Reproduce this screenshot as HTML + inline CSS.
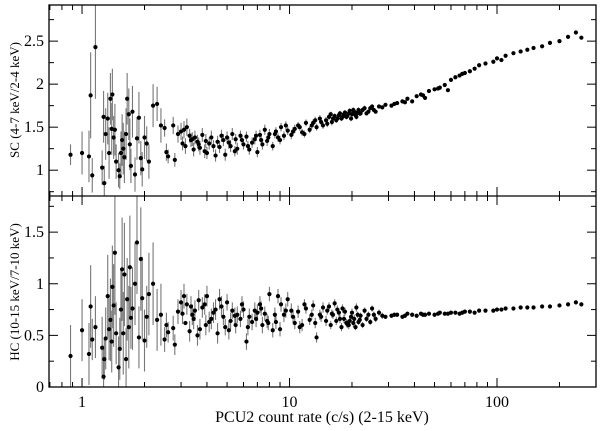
<!DOCTYPE html>
<html><head><meta charset="utf-8"><style>
html,body{margin:0;padding:0;background:#fff;}
svg{display:block;font-family:"Liberation Serif",serif;}
</style></head><body>
<svg id="chart" width="600" height="431" viewBox="0 0 600 431">
<defs>
<clipPath id="clipTop"><rect x="49" y="5" width="547" height="191"/></clipPath>
<clipPath id="clipBot"><rect x="49" y="196" width="547" height="191"/></clipPath>
</defs>
<g id="topErr" clip-path="url(#clipTop)"></g>
<g id="botErr" clip-path="url(#clipBot)"></g>
<g id="topPts" clip-path="url(#clipTop)"></g>
<g id="botPts" clip-path="url(#clipBot)"></g>
<g id="axes"></g>
<text x="19" y="100" transform="rotate(-90 19 100)" text-anchor="middle" font-size="13">SC (4-7 keV/2-4 keV)</text>
<text x="19" y="292" transform="rotate(-90 19 292)" text-anchor="middle" font-size="13">HC (10-15 keV/7-10 keV)</text>
<text x="322" y="422" text-anchor="middle" font-size="16">PCU2 count rate (c/s) (2-15 keV)</text>
</svg>
<script>
const rate=[0.88,1.0,1.08,1.1,1.12,1.16,1.25,1.27,1.28,1.30,1.33,1.35,1.37,1.39,1.40,1.42,1.44,1.46,1.5,1.52,1.54,1.56,1.58,1.6,1.63,1.65,1.68,1.7,1.72,1.75,1.8,1.84,1.88,1.92,1.95,2.0,2.05,2.1,2.2,2.3,2.4,
2.5,2.55,2.6,2.75,2.8,2.9,3.0,3.05,3.1,3.2,3.3,3.35,3.45,3.5,3.6,3.7,3.8,3.9,4.0,4.1,4.2,4.4,4.5,4.6,4.8,4.9,5.0,5.2,5.3,5.5,5.6,5.8,6.0,6.2,6.4,6.6,6.8,7.0,7.2,7.4,7.6,7.8,8.0,8.3,8.6,8.8,9.1,9.4,9.8,
10.2,10.6,11.0,11.5,12.0,12.5,13.0,13.5,14.0,14.5,15.0,15.5,16.0,16.5,17.0,17.5,18.0,18.5,19.0,19.5,20.0,20.5,21,21.5,22,23,24,25,26,27,29,31,33,35,37,39,41,43,45,47,50,53,56,58,60,63,66,70,74,78,82,96,100,105,110,120,130,140,150,165,180,200,220,240,255,
3.15,3.4,3.65,3.95,4.3,4.7,5.1,5.45,5.9,6.3,6.9,7.3,7.9,8.5,9.0,9.6,10.4,11.2,11.8,12.8,13.3,14.2,15.2,15.8,16.2,16.8,17.3,17.8,18.3,18.8,19.3,19.8,20.3,20.8,21.3,21.8,22.5,23.5,24.5,25.5,28,32,36,44,52,68,88];
const sc=[1.18,1.20,1.16,1.87,0.94,2.43,1.03,1.62,0.85,1.42,1.60,1.20,1.83,1.48,1.88,1.38,1.47,1.10,1.00,0.93,1.20,1.35,1.25,1.15,1.42,1.83,1.65,1.30,1.05,1.68,0.95,1.37,1.61,1.14,1.01,1.38,1.31,1.10,1.75,1.77,1.52,
1.49,1.21,1.16,1.52,1.12,1.42,1.45,1.31,1.47,1.50,1.40,1.35,1.24,1.38,1.33,1.26,1.41,1.22,1.20,1.31,1.38,1.17,1.33,1.27,1.35,1.18,1.38,1.28,1.42,1.36,1.25,1.40,1.30,1.39,1.24,1.32,1.36,1.21,1.41,1.30,1.47,1.34,1.42,1.28,1.45,1.38,1.50,1.40,1.46,
1.41,1.48,1.52,1.44,1.55,1.47,1.55,1.50,1.60,1.52,1.58,1.62,1.56,1.63,1.60,1.66,1.62,1.67,1.63,1.69,1.65,1.68,1.62,1.70,1.66,1.72,1.68,1.74,1.68,1.74,1.76,1.75,1.78,1.80,1.83,1.80,1.86,1.88,1.84,1.92,1.94,1.96,1.99,1.93,2.05,2.08,2.10,2.13,2.15,2.18,2.22,2.26,2.30,2.28,2.33,2.36,2.38,2.40,2.42,2.44,2.48,2.50,2.55,2.60,2.54,
1.28,1.36,1.30,1.34,1.28,1.40,1.32,1.22,1.35,1.28,1.40,1.35,1.38,1.42,1.35,1.52,1.45,1.50,1.42,1.52,1.58,1.56,1.54,1.65,1.60,1.58,1.64,1.60,1.65,1.62,1.66,1.60,1.70,1.64,1.67,1.66,1.70,1.66,1.72,1.70,1.73,1.77,1.79,1.87,1.95,2.12,2.24];
const scErr=[.12,.25,.3,.5,.2,.6,.2,.3,.2,.3,.3,.3,.3,.3,.3,.25,.3,.2,.2,.15,.25,.3,.3,.3,.3,.3,.3,.3,.2,.3,.2,.25,.3,.2,.2,.25,.2,.2,.25,.2,.2,
.1,.1,.08,.1,.08,.1,.1,.08,.1,.1,.08,.08,.08,.08,.08,.08,.08,.08,.07,.07,.08,.07,.07,.07,.07,.07,.07,.07,.07,.06,.07,.06,.06,.06,.06,.06,.06,.06,.06,.06,.06,.06,.06,.05,.05,.05,.05,.05,.05,
.05,.05,.04,.04,.04,.04,.04,.04,.04,.04,.04,.04,.04,.03,.03,.03,.03,.03,.03,.03,.03,.03,.03,.03,.03,.03,.02,.02,.02,.02,.02,.02,.02,.02,.02,.02,.02,.02,.02,.02,.02,.02,.02,.02,.02,.02,.02,.02,.02,.02,.02,.02,.02,.02,.02,.02,.02,.02,.02,.02,.02,.02,.02,.02,.02,
.09,.08,.08,.08,.07,.07,.07,.06,.06,.06,.06,.06,.05,.05,.05,.05,.05,.04,.04,.04,.04,.04,.04,.03,.03,.03,.03,.03,.03,.03,.03,.03,.03,.03,.03,.03,.03,.02,.02,.02,.02,.02,.02,.02,.02,.02,.02];
const hc=[0.30,0.55,0.32,0.78,0.46,0.58,0.38,0.10,0.27,0.47,0.88,0.56,0.65,0.44,0.97,0.79,1.30,0.52,0.19,0.37,0.75,1.14,0.52,1.09,0.27,0.85,0.58,1.16,0.67,0.76,1.00,1.40,0.48,1.24,0.86,0.45,0.68,0.90,1.00,0.65,0.70,
0.46,0.60,0.53,0.57,0.41,0.73,0.82,0.71,0.88,0.80,0.54,0.78,0.66,0.74,0.50,0.56,0.77,0.80,0.88,0.63,0.66,0.75,0.52,0.85,0.68,0.58,0.82,0.64,0.74,0.60,0.70,0.66,0.75,0.44,0.68,0.63,0.74,0.72,0.80,0.60,0.71,0.64,0.90,0.55,0.63,0.88,0.80,0.70,0.85,
0.74,0.62,0.73,0.60,0.76,0.65,0.79,0.48,0.70,0.77,0.64,0.78,0.71,0.81,0.75,0.66,0.76,0.73,0.61,0.64,0.72,0.66,0.77,0.63,0.69,0.74,0.70,0.76,0.66,0.72,0.68,0.69,0.70,0.68,0.71,0.70,0.69,0.71,0.70,0.71,0.70,0.72,0.71,0.71,0.72,0.72,0.71,0.73,0.73,0.72,0.74,0.74,0.75,0.75,0.76,0.76,0.77,0.77,0.77,0.78,0.78,0.79,0.80,0.82,0.80,
0.62,0.70,0.84,0.60,0.72,0.78,0.55,0.69,0.80,0.58,0.66,0.76,0.62,0.70,0.56,0.74,0.68,0.58,0.80,0.70,0.62,0.68,0.74,0.60,0.70,0.64,0.72,0.58,0.66,0.62,0.60,0.68,0.62,0.58,0.70,0.65,0.60,0.66,0.63,0.70,0.69,0.70,0.69,0.70,0.71,0.72,0.74];
const hcErr=[.3,.3,.3,.4,.2,.3,.3,.3,.2,.3,.4,.3,.4,.3,.4,.4,.6,.3,.3,.3,.4,.5,.4,.5,.3,.4,.4,.5,.3,.4,.4,.5,.3,.5,.4,.3,.3,.4,.4,.3,.3,
.12,.12,.1,.12,.1,.12,.12,.1,.12,.1,.1,.1,.1,.1,.1,.1,.1,.1,.1,.1,.1,.1,.1,.1,.08,.08,.08,.08,.08,.08,.08,.08,.08,.08,.08,.08,.08,.08,.08,.08,.07,.07,.07,.07,.07,.07,.07,.07,.07,.07,
.06,.06,.06,.05,.05,.05,.05,.05,.05,.05,.04,.04,.04,.04,.04,.04,.04,.04,.04,.04,.04,.04,.03,.03,.03,.03,.03,.03,.03,.02,.02,.02,.02,.02,.02,.02,.02,.02,.02,.02,.02,.02,.02,.02,.02,.02,.02,.02,.02,.02,.02,.02,.02,.02,.02,.02,.02,.02,.02,.02,.02,.02,.02,.02,.02,
.1,.1,.1,.1,.1,.09,.08,.08,.08,.08,.07,.07,.07,.07,.07,.06,.06,.05,.05,.05,.05,.04,.04,.04,.04,.04,.04,.04,.04,.04,.04,.04,.03,.03,.03,.03,.03,.03,.03,.03,.02,.02,.02,.02,.02,.02,.02];
const xTickLabels=["1","10","100"];
const xTickVals=[1,10,100];
const scTickVals=[1,1.5,2,2.5];
const scTickLabels=["1","1.5","2","2.5"];
const hcTickVals=[0,0.5,1,1.5];
const hcTickLabels=["0","0.5","1","1.5"];

const NS="http://www.w3.org/2000/svg";
const L=49,R=596,T1=5,B1=196,T2=196,B2=387;
const xMin=0.693,xMax=300;
function xs(v){return L+(Math.log10(v)-Math.log10(xMin))/(Math.log10(xMax)-Math.log10(xMin))*(R-L);}
const scMin=0.70,scMax=2.92;
function ysc(v){return B1-(v-scMin)/(scMax-scMin)*(B1-T1);}
const hcMin=0,hcMax=1.85;
function yhc(v){return B2-(v-hcMin)/(hcMax-hcMin)*(B2-T2);}
function mk(tag,attrs,parent){const e=document.createElementNS(NS,tag);for(const k in attrs)e.setAttribute(k,attrs[k]);parent.appendChild(e);return e;}
const topErr=document.getElementById('topErr'),botErr=document.getElementById('botErr');
const topPts=document.getElementById('topPts'),botPts=document.getElementById('botPts');
const axes=document.getElementById('axes');
for(let i=0;i<rate.length;i++){
  const x=xs(rate[i]);
  let e=mk('line',{x1:x,x2:x,y1:ysc(sc[i]-scErr[i]),y2:ysc(sc[i]+scErr[i]),stroke:'#777','stroke-width':1.1},topErr);
  
  
  e=mk('line',{x1:x,x2:x,y1:yhc(hc[i]-hcErr[i]),y2:yhc(hc[i]+hcErr[i]),stroke:'#777','stroke-width':1.1},botErr);
  
  
  let p=mk('circle',{cx:x,cy:ysc(sc[i]),r:2.1,fill:'#000'},topPts);
  
  
  p=mk('circle',{cx:x,cy:yhc(hc[i]),r:2.1,fill:'#000'},botPts);
  
  
}
let f=mk('rect',{x:L,y:T1,width:R-L,height:B2-T1,fill:'none',stroke:'#000','stroke-width':1.3},axes);


f=mk('line',{x1:L,x2:R,y1:B1,y2:B1,stroke:'#000','stroke-width':1.3},axes);


const decs=[0.1,1,10,100];
for(const d of decs){for(let m=1;m<10;m++){const v=d*m;if(v<xMin||v>xMax)continue;const x=xs(v);const len=(m===1)?9:5;
  for(const [yb,dir] of [[T1,1],[B1,-1],[B1,1],[B2,-1]]){mk('line',{x1:x,x2:x,y1:yb,y2:yb+dir*len,stroke:'#000','stroke-width':1},axes);}
}}
for(let i=0;i<xTickVals.length;i++){const t=mk('text',{x:xs(xTickVals[i]),y:407,'text-anchor':'middle','font-size':16},axes);t.textContent=xTickLabels[i];
  
  }
for(let v=0.75;v<=2.9;v+=0.25){const y=ysc(v);const maj=Math.abs(v*2-Math.round(v*2))<1e-6;const len=maj?9:5;
  mk('line',{x1:L,x2:L+len,y1:y,y2:y,stroke:'#000','stroke-width':1},axes);mk('line',{x1:R,x2:R-len,y1:y,y2:y,stroke:'#000','stroke-width':1},axes);}
for(let i=0;i<scTickVals.length;i++){const t=mk('text',{x:44,y:ysc(scTickVals[i])+5,'text-anchor':'end','font-size':16},axes);t.textContent=scTickLabels[i];
  
  }
for(let v=0;v<=1.8;v+=0.25){const y=yhc(v);const maj=Math.abs(v*2-Math.round(v*2))<1e-6;const len=maj?9:5;
  mk('line',{x1:L,x2:L+len,y1:y,y2:y,stroke:'#000','stroke-width':1},axes);mk('line',{x1:R,x2:R-len,y1:y,y2:y,stroke:'#000','stroke-width':1},axes);}
for(let i=0;i<hcTickVals.length;i++){const t=mk('text',{x:44,y:yhc(hcTickVals[i])+5,'text-anchor':'end','font-size':16},axes);t.textContent=hcTickLabels[i];
  
  }
</script>
</body></html>
